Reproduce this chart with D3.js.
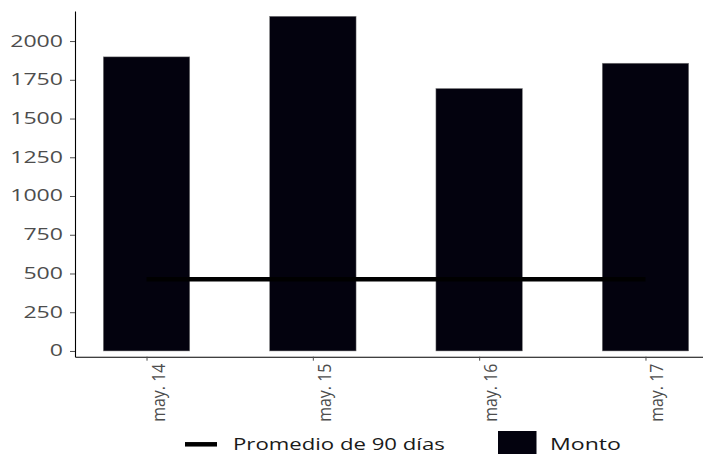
<!DOCTYPE html>
<html>
<head>
<meta charset="utf-8">
<script src="https://cdn.jsdelivr.net/npm/d3@7"></script>
<style>
  body { margin: 0; background: #fff; }
  svg { display: block; font-family: "Open Sans", sans-serif; }
</style>
</head>
<body>
<svg id="chart" width="703" height="454"></svg>
<script>
// Datos
const categories = ["may. 14", "may. 15", "may. 16", "may. 17"];
const montos = [1898, 2160, 1694, 1857];
const promedio90 = [463, 463, 463, 463];
const yTicks = [0, 250, 500, 750, 1000, 1250, 1500, 1750, 2000];
const legendLabels = ["Promedio de 90 días", "Monto"];

const width = 703, height = 454;
const stretch = 1.5; // texto horizontalmente ancho, como en la imagen

const svg = d3.select("#chart").attr("viewBox", `0 0 ${width} ${height}`);

const x = d3.scalePoint()
  .domain(categories)
  .range([75, 717])
  .padding(0.43);

const y = d3.scaleLinear()
  .domain([-37, 2194])
  .range([356.7, 11]);

const barW = x.step() * 0.52;
const data = categories.map((c, i) => ({ cat: c, monto: montos[i], prom: promedio90[i] }));

// barras
svg.append("g").selectAll("rect")
  .data(data)
  .join("rect")
  .attr("x", d => x(d.cat) - barW / 2)
  .attr("y", d => y(d.monto))
  .attr("width", barW)
  .attr("height", d => y(0) - y(d.monto))
  .attr("fill", "#03020e")
  .attr("stroke", "#8a8a8a")
  .attr("stroke-width", 0.5);

// línea de promedio
svg.append("path")
  .datum(data)
  .attr("fill", "none")
  .attr("stroke", "#000")
  .attr("stroke-width", 4.5)
  .attr("d", d3.line().x(d => x(d.cat)).y(d => y(d.prom)));

// eje Y
const yAxisG = svg.append("g")
  .attr("transform", "translate(75,0)")
  .call(d3.axisLeft(y).tickValues(yTicks).tickFormat(d3.format("d"))
    .tickSize(5).tickSizeOuter(0).tickPadding(3));
yAxisG.select(".domain").attr("stroke", "#000").attr("stroke-width", 1.1);
yAxisG.selectAll(".tick line").attr("stroke", "#4d4d4d");
yAxisG.selectAll(".tick text")
  .attr("fill", "#4d4d4d")
  .attr("font-size", 15.4)
  .attr("font-family", "Open Sans")
  .attr("transform", `scale(${stretch},1)`);

// eje X
const xAxisG = svg.append("g")
  .attr("transform", "translate(0,356.7)")
  .call(d3.axisBottom(x).tickSize(4).tickSizeOuter(0));
xAxisG.select(".domain").attr("stroke", "#000").attr("stroke-width", 1.1);
xAxisG.selectAll(".tick line").attr("stroke", "#4d4d4d");
const xLabels = xAxisG.selectAll(".tick text")
  .attr("fill", "#4d4d4d")
  .attr("font-size", 17.5)
  .attr("font-family", "Open Sans")
  .attr("text-anchor", "end")
  .attr("dy", 0);
// etiquetas verticales, de ~58px de largo
const xLen = xLabels.node().getComputedTextLength();
const sx = 58 / xLen;
xLabels
  .attr("transform", `rotate(-90) scale(${sx},1)`)
  .attr("x", -7 / sx)
  .attr("y", 17.5);

// leyenda
const legend = svg.append("g");
legend.append("line")
  .attr("x1", 185).attr("x2", 217)
  .attr("y1", 444.3).attr("y2", 444.3)
  .attr("stroke", "#000").attr("stroke-width", 4.5);
legend.append("text")
  .attr("transform", `translate(233,449.5) scale(1.44,1)`)
  .attr("font-size", 15.4)
  .attr("fill", "#1a1a1a")
  .text(legendLabels[0]);
legend.append("rect")
  .attr("x", 498).attr("y", 431)
  .attr("width", 38.5).attr("height", 38.5)
  .attr("fill", "#03020e");
legend.append("text")
  .attr("transform", `translate(550,449.5) scale(${stretch},1)`)
  .attr("font-size", 15.4)
  .attr("fill", "#1a1a1a")
  .text(legendLabels[1]);
</script>
</body>
</html>
